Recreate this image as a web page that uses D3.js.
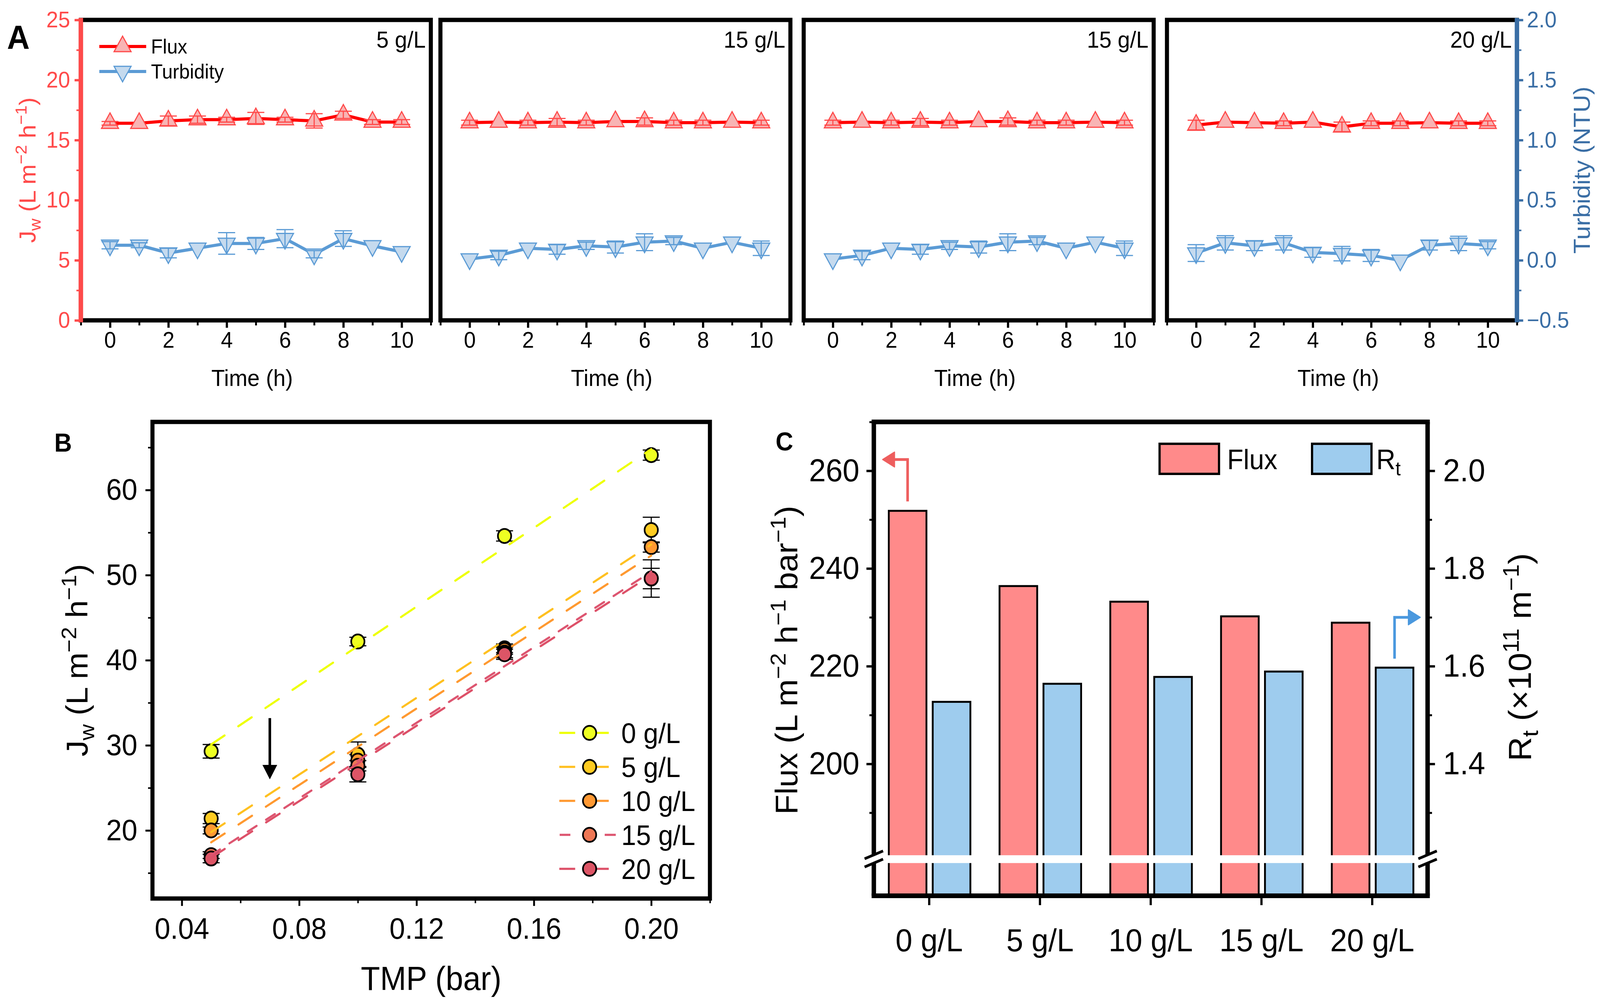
<!DOCTYPE html>
<html>
<head>
<meta charset="utf-8">
<script src="https://cdn.jsdelivr.net/npm/d3@7"></script>
<style>
html, body { margin: 0; padding: 0; background: #fff; overflow: hidden; }
#fig { display: block; width: 100vw; height: 100vh; }
</style>
</head>
<body>
<svg id="fig" viewBox="0 0 4334 2570" preserveAspectRatio="none"></svg>
<script>
// ---- données panneau A (flux en L m-2 h-1, turbidité en NTU) ----
const heures = [0, 1, 2, 3, 4, 5, 6, 7, 8, 9, 10];
const etiquettesA = ["5 g/L", "15 g/L", "15 g/L", "20 g/L"];
const fluxA1 = [16.4, 16.4, 16.6, 16.7, 16.7, 16.8, 16.7, 16.6, 17.1, 16.5, 16.5];
const fluxA1Err = [0.15, 0, 0.4, 0.3, 0.2, 0.5, 0.2, 0.6, 0.3, 0.2, 0.2];
const turbA1 = [0.125, 0.125, 0.06, 0.10, 0.14, 0.14, 0.18, 0.05, 0.18, 0.12, 0.07];
const turbA1Err = [0.03, 0.02, 0.04, 0, 0.09, 0.05, 0.075, 0.03, 0.065, 0, 0];
const fluxA2 = [16.45, 16.5, 16.45, 16.5, 16.45, 16.55, 16.55, 16.45, 16.45, 16.5, 16.45];
const fluxA2Err = [0.2, 0, 0.2, 0.3, 0.2, 0, 0.3, 0.2, 0.2, 0, 0.2];
const turbA2 = [0.01, 0.04, 0.10, 0.09, 0.12, 0.11, 0.15, 0.16, 0.10, 0.15, 0.10];
const turbA2Err = [0, 0.035, 0, 0.04, 0.03, 0.05, 0.07, 0.03, 0, 0, 0.06];
const fluxA4 = [16.25, 16.5, 16.45, 16.4, 16.5, 16.1, 16.4, 16.4, 16.45, 16.4, 16.4];
const fluxA4Err = [0.4, 0, 0, 0.2, 0, 0.4, 0.2, 0.2, 0, 0.2, 0.2];
const turbA4 = [0.06, 0.145, 0.12, 0.145, 0.065, 0.055, 0.04, 0.0, 0.125, 0.14, 0.125];
const turbA4Err = [0.07, 0.06, 0.04, 0.06, 0.04, 0.06, 0.05, 0, 0.04, 0.06, 0.03];

// ---- données panneau B ----
const tmp = [0.05, 0.10, 0.15, 0.20];
const concB = ["0 g/L", "5 g/L", "10 g/L", "15 g/L", "20 g/L"];
const jw0 = [29.3, 42.2, 54.6, 64.1];
const jw5 = [21.4, 28.9, 41.4, 55.3];
const jw10 = [20.0, 28.2, 41.2, 53.3];
const jw15 = [17.1, 27.6, 40.9, 49.6];
const jw20 = [16.7, 26.6, 40.7, 49.6];
const jw0Err = [0.8, 0.5, 0.6, 0.6];
const jw5Err = [0.6, 1.5, 0.5, 1.5];
const jw10Err = [0.4, 0.7, 0.5, 0.6];
const jw15Err = [0.4, 0.6, 0.6, 1.2];
const jw20Err = [0.5, 0.9, 0.6, 2.2];
// droites d'ajustement : valeurs à 0.05 et 0.20 bar
const tmpFit = [0.05, 0.20];
const fit0 = [30.1, 64.8];
const fit5 = [19.8, 53.6];
const fit10 = [18.6, 52.3];
const fit15 = [17.1, 50.4];
const fit20 = [16.8, 50.0];

// ---- données panneau C ----
const concC = ["0 g/L", "5 g/L", "10 g/L", "15 g/L", "20 g/L"];
const fluxC = [251.8, 236.4, 233.2, 230.2, 228.9];
const rtC = [1.527, 1.564, 1.578, 1.589, 1.597];

// ---------------------------------------------------------------
const police = '"Liberation Sans", Arial, Helvetica, sans-serif';
const svg = d3.select("#fig");
const rouge = "#FF4A4A", bleuAxe = "#3A6EA5";

function axe(g, axis, taille, couleur, largeur) {
  g.call(axis);
  g.select(".domain").remove();
  g.selectAll(".tick line").attr("stroke", couleur).attr("stroke-width", largeur);
  g.selectAll(".tick text").attr("fill", couleur).attr("font-size", taille)
    .attr("font-family", police);
}

// texte avec indices / exposants
function texteRiche(sel, morceaux, f) {
  let decal = 0;
  morceaux.forEach(([txt, mode]) => {
    const cible = mode === "sup" ? -0.38 * f : mode === "sub" ? 0.22 * f : 0;
    sel.append("tspan").attr("dy", cible - decal)
      .attr("font-size", mode ? 0.7 * f : f).text(txt);
    decal = cible;
  });
}

function titreVertical(x, y, morceaux, f, couleur) {
  const t = svg.append("text")
    .attr("transform", `translate(${x},${y}) rotate(-90)`)
    .attr("text-anchor", "middle").attr("font-family", police)
    .attr("font-size", f).attr("fill", couleur);
  texteRiche(t, morceaux, f);
}

function lettre(x, y, l, f) {
  svg.append("text").attr("x", x).attr("y", y).attr("font-family", police)
    .attr("font-weight", "bold").attr("font-size", f).text(l);
}

// =================== PANNEAU A ===================
const hautA = 51, basA = 820, largA = 948;
const gauchesA = [219, 1193, 2177, 3161];
const seriesA = [
  [fluxA1, fluxA1Err, turbA1, turbA1Err],
  [fluxA2, fluxA2Err, turbA2, turbA2Err],
  [fluxA2, fluxA2Err, turbA2, turbA2Err],
  [fluxA4, fluxA4Err, turbA4, turbA4Err]
];
const triangle = d3.symbol().type(d3.symbolTriangle).size(919);

gauchesA.forEach((L, i) => {
  const x = d3.scaleLinear([-1, 11], [L, L + largA]);
  const yL = d3.scaleLinear([0, 25], [basA, hautA]);
  const yR = d3.scaleLinear([-0.5, 2], [basA, hautA]);
  const [fl, flE, tu, tuE] = seriesA[i];
  const g = svg.append("g");

  const courbe = (ys, vals) => d3.line().x((d, k) => x(heures[k])).y(d => ys(d))(vals);

  // flux
  g.append("path").attr("d", courbe(yL, fl)).attr("fill", "none")
    .attr("stroke", "#FF0000").attr("stroke-width", 8).attr("stroke-linejoin", "round");
  g.selectAll(".trh").data(fl).enter().append("path")
    .attr("d", triangle)
    .attr("transform", (d, k) => `translate(${x(heures[k])},${yL(d)})`)
    .attr("fill", "#F8B4B4").attr("stroke", "#FF4A4A").attr("stroke-width", 3);
  // turbidité
  g.append("path").attr("d", courbe(yR, tu)).attr("fill", "none")
    .attr("stroke", "#5B9BD5").attr("stroke-width", 8).attr("stroke-linejoin", "round");
  g.selectAll(".trb").data(tu).enter().append("path")
    .attr("d", triangle)
    .attr("transform", (d, k) => `translate(${x(heures[k])},${yR(d)}) rotate(180)`)
    .attr("fill", "#C5DAEE").attr("stroke", "#5B9BD5").attr("stroke-width", 3);

  // barres d'erreur
  const erreurs = (vals, errs, ys, coul) => {
    vals.forEach((v, k) => {
      if (!errs[k]) return;
      const cx = x(heures[k]);
      const p = d3.path();
      p.moveTo(cx, ys(v - errs[k])); p.lineTo(cx, ys(v + errs[k]));
      [v - errs[k], v + errs[k]].forEach(e => { p.moveTo(cx - 23, ys(e)); p.lineTo(cx + 23, ys(e)); });
      g.append("path").attr("d", p.toString()).attr("stroke", coul)
        .attr("stroke-width", 3).attr("fill", "none");
    });
  };
  erreurs(fl, flE, yL, "#FF4A4A");
  erreurs(tu, tuE, yR, "#5B9BD5");

  // axe du bas
  axe(g.append("g").attr("transform", `translate(0,${basA})`),
    d3.axisBottom(x).tickValues([0, 2, 4, 6, 8, 10]).tickSize(19).tickPadding(10),
    58, "#000", 6);
  axe(g.append("g").attr("transform", `translate(0,${basA})`),
    d3.axisBottom(x).tickValues([-1, 1, 3, 5, 7, 9, 11]).tickSize(13).tickFormat(""),
    58, "#000", 5);

  // cadre
  g.append("rect").attr("x", L).attr("y", hautA).attr("width", largA)
    .attr("height", basA - hautA).attr("fill", "none").attr("stroke", "#000").attr("stroke-width", 11);

  if (i === 0) {
    axe(g.append("g").attr("transform", `translate(${L},0)`),
      d3.axisLeft(yL).tickValues([0, 5, 10, 15, 20, 25]).tickSize(17).tickPadding(12),
      58, rouge, 6);
    axe(g.append("g").attr("transform", `translate(${L},0)`),
      d3.axisLeft(yL).tickValues([2.5, 7.5, 12.5, 17.5, 22.5]).tickSize(12).tickFormat(""),
      58, rouge, 4);
    g.append("line").attr("x1", L).attr("x2", L).attr("y1", hautA - 5).attr("y2", basA + 5)
      .attr("stroke", rouge).attr("stroke-width", 12);
  }
  if (i === 3) {
    const R = L + largA;
    axe(g.append("g").attr("transform", `translate(${R},0)`),
      d3.axisRight(yR).tickValues([-0.5, 0, 0.5, 1, 1.5, 2]).tickSize(17).tickPadding(10)
        .tickFormat(d3.format(".1f")),
      58, bleuAxe, 6);
    axe(g.append("g").attr("transform", `translate(${R},0)`),
      d3.axisRight(yR).tickValues([-0.25, 0.25, 0.75, 1.25, 1.75]).tickSize(12).tickFormat(""),
      58, bleuAxe, 4);
    g.append("line").attr("x1", R).attr("x2", R).attr("y1", hautA - 5).attr("y2", basA + 5)
      .attr("stroke", bleuAxe).attr("stroke-width", 12);
  }

  // concentration
  g.append("text").attr("x", L + largA - 14).attr("y", 122).attr("text-anchor", "end")
    .attr("font-family", police).attr("font-size", 60).text(etiquettesA[i]);
  // titre x
  g.append("text").attr("x", L + largA / 2 - 10).attr("y", 988).attr("text-anchor", "middle")
    .attr("font-family", police).attr("font-size", 60).text("Time (h)");
});

// légende A
const legA = svg.append("g");
[["Flux", "#FF0000", "#F8B4B4", "#FF4A4A", 119, 0], ["Turbidity", "#5B9BD5", "#C5DAEE", "#5B9BD5", 183, 180]]
  .forEach(([nom, cl, fill, st, yy, rot]) => {
    legA.append("line").attr("x1", 269).attr("x2", 396).attr("y1", yy).attr("y2", yy)
      .attr("stroke", cl).attr("stroke-width", 8);
    legA.append("path").attr("d", triangle).attr("transform", `translate(332,${yy}) rotate(${rot})`)
      .attr("fill", fill).attr("stroke", st).attr("stroke-width", 3);
    legA.append("text").attr("x", 409).attr("y", yy).attr("dy", "0.35em")
      .attr("font-family", police).attr("font-size", 52).text(nom);
  });

titreVertical(96, (hautA + basA) / 2, [["J"], ["w", "sub"], [" (L m"], ["−2", "sup"], [" h"], ["−1", "sup"], [")"]], 62, rouge);
svg.append("text").attr("transform", `translate(4306,${(hautA + basA) / 2}) rotate(-90)`)
  .attr("text-anchor", "middle").attr("font-family", police).attr("font-size", 63)
  .attr("fill", bleuAxe).text("Turbidity (NTU)");
lettre(19, 125, "A", 85);

// =================== PANNEAU B ===================
const bx0 = 413, bx1 = 1923, by0 = 1080, by1 = 2300;
const xB = d3.scaleLinear([0.03, 0.22], [bx0, bx1]);
const yB = d3.scaleLinear([12, 68], [by1, by0]);
const gB = svg.append("g");
const seriesB = [jw0, jw5, jw10, jw15, jw20];
const errB = [jw0Err, jw5Err, jw10Err, jw15Err, jw20Err];
const fitsB = [fit0, fit5, fit10, fit15, fit20];
const remplB = ["#EEFF22", "#FFCC22", "#FF9933", "#EE7755", "#DD5566"];
const traitB = ["#EEFF00", "#FFC020", "#FF9930", "#DD5570", "#DD5068"];
const tiretB = ["43,44", "43,44", "43,44", "28,30", "43,44"];

seriesB.forEach((s, j) => {
  s.forEach((v, k) => {
    const cx = xB(tmp[k]), e = errB[j][k];
    const p = d3.path();
    p.moveTo(cx, yB(v - e)); p.lineTo(cx, yB(v + e));
    [v - e, v + e].forEach(w => { p.moveTo(cx - 23, yB(w)); p.lineTo(cx + 23, yB(w)); });
    gB.append("path").attr("d", p.toString()).attr("stroke", "#000").attr("stroke-width", 3);
  });
});
seriesB.forEach((s, j) => {
  gB.selectAll(".pt" + j).data(s).enter().append("circle")
    .attr("cx", (d, k) => xB(tmp[k])).attr("cy", d => yB(d)).attr("r", 18)
    .attr("fill", remplB[j]).attr("stroke", "#000").attr("stroke-width", 4.5);
});
fitsB.forEach((f, j) => {
  gB.append("path")
    .attr("d", d3.line().x((d, k) => xB(tmpFit[k])).y(d => yB(d))(f))
    .attr("stroke", traitB[j]).attr("stroke-width", 5.5).attr("fill", "none")
    .attr("stroke-dasharray", tiretB[j]).attr("stroke-linecap", "round");
});

// flèche
const xf = xB(0.07);
gB.append("line").attr("x1", xf).attr("x2", xf).attr("y1", yB(33.2)).attr("y2", yB(26) - 30)
  .attr("stroke", "#000").attr("stroke-width", 7);
gB.append("path").attr("d", `M${xf},${yB(26)} L${xf - 20},${yB(26) - 37} L${xf + 20},${yB(26) - 37} Z`)
  .attr("fill", "#000");

axe(gB.append("g").attr("transform", `translate(0,${by1})`),
  d3.axisBottom(xB).tickValues([0.04, 0.08, 0.12, 0.16, 0.20]).tickSize(19).tickPadding(30)
    .tickFormat(d3.format(".2f")), 76, "#000", 5);
axe(gB.append("g").attr("transform", `translate(0,${by1})`),
  d3.axisBottom(xB).tickValues([0.06, 0.10, 0.14, 0.18, 0.22]).tickSize(12).tickFormat(""), 76, "#000", 4);
axe(gB.append("g").attr("transform", `translate(${bx0},0)`),
  d3.axisLeft(yB).tickValues([20, 30, 40, 50, 60]).tickSize(19).tickPadding(22), 76, "#000", 5);
axe(gB.append("g").attr("transform", `translate(${bx0},0)`),
  d3.axisLeft(yB).tickValues([15, 25, 35, 45, 55, 65]).tickSize(12).tickFormat(""), 76, "#000", 4);
gB.append("rect").attr("x", bx0).attr("y", by0).attr("width", bx1 - bx0).attr("height", by1 - by0)
  .attr("fill", "none").attr("stroke", "#000").attr("stroke-width", 11);

// légende B
concB.forEach((c, j) => {
  const yy = 1876 + j * 87;
  const seg = j === 3 ? [[1516, 1545], [1638, 1668]] : [[1515, 1558], [1616, 1649]];
  seg.forEach(([a, b]) => gB.append("line").attr("x1", a).attr("x2", b).attr("y1", yy).attr("y2", yy)
    .attr("stroke", traitB[j]).attr("stroke-width", 5.5));
  gB.append("circle").attr("cx", 1597).attr("cy", yy).attr("r", 18)
    .attr("fill", remplB[j]).attr("stroke", "#000").attr("stroke-width", 4.5);
  gB.append("text").attr("x", 1683).attr("y", yy).attr("dy", "0.36em").attr("font-family", police)
    .attr("font-size", 72).text(c);
});

svg.append("text").attr("x", (bx0 + bx1) / 2).attr("y", 2534).attr("text-anchor", "middle")
  .attr("font-family", police).attr("font-size", 85).text("TMP (bar)");
titreVertical(237, (by0 + by1) / 2, [["J"], ["w", "sub"], [" (L m"], ["−2", "sup"], [" h"], ["−1", "sup"], [")"]], 82, "#000");
lettre(147, 1156, "B", 66);

// =================== PANNEAU C ===================
const cx0 = 2367, cx1 = 3867, cy0 = 1080, cy1 = 2293;
const xC = d3.scaleBand(concC, [cx0, cx1]);
const yCL = d3.scaleLinear([173, 270], [cy1, cy0]);
const yCR = d3.scaleLinear([1.13, 2.1], [cy1, cy0]);
const gC = svg.append("g");
const bw = xC.bandwidth();
const largBarre = bw * 0.34, ecart = bw * 0.025;

gC.selectAll(".bf").data(fluxC).enter().append("rect")
  .attr("x", (d, k) => xC(concC[k]) + bw / 2 - ecart - largBarre)
  .attr("y", d => yCL(d)).attr("width", largBarre).attr("height", d => cy1 - yCL(d))
  .attr("fill", "#FF8A8A").attr("stroke", "#000").attr("stroke-width", 5);
gC.selectAll(".br").data(rtC).enter().append("rect")
  .attr("x", (d, k) => xC(concC[k]) + bw / 2 + ecart + 2)
  .attr("y", d => yCR(d)).attr("width", largBarre).attr("height", d => cy1 - yCR(d))
  .attr("fill", "#9ECCEE").attr("stroke", "#000").attr("stroke-width", 5);

// coupure d'axe
const yCoupe = yCL(180.5);
gC.append("rect").attr("x", cx0 - 6).attr("y", yCoupe - 10).attr("width", cx1 - cx0 + 12).attr("height", 20)
  .attr("fill", "#fff");

axe(gC.append("g").attr("transform", `translate(0,${cy1})`),
  d3.axisBottom(xC).tickSize(24).tickPadding(60), 82, "#000", 6);
axe(gC.append("g").attr("transform", `translate(${cx0},0)`),
  d3.axisLeft(yCL).tickValues([200, 220, 240, 260]).tickSize(20).tickPadding(19), 82, "#000", 6);
axe(gC.append("g").attr("transform", `translate(${cx0},0)`),
  d3.axisLeft(yCL).tickValues([190, 210, 230, 250, 270]).tickSize(12).tickFormat(""), 82, "#000", 5);
axe(gC.append("g").attr("transform", `translate(${cx1},0)`),
  d3.axisRight(yCR).tickValues([1.4, 1.6, 1.8, 2.0]).tickSize(20).tickPadding(22)
    .tickFormat(d3.format(".1f")), 82, "#000", 6);
axe(gC.append("g").attr("transform", `translate(${cx1},0)`),
  d3.axisRight(yCR).tickValues([1.3, 1.5, 1.7, 1.9]).tickSize(12).tickFormat(""), 82, "#000", 5);

// cadre en deux morceaux autour de la coupure
[[cy0, yCoupe - 10], [yCoupe + 10, cy1]].forEach(([a, b]) => {
  [cx0, cx1].forEach(xx => gC.append("line").attr("x1", xx).attr("x2", xx).attr("y1", a).attr("y2", b)
    .attr("stroke", "#000").attr("stroke-width", 12));
});
gC.append("line").attr("x1", cx0 - 6).attr("x2", cx1 + 6).attr("y1", cy0).attr("y2", cy0)
  .attr("stroke", "#000").attr("stroke-width", 12);
gC.append("line").attr("x1", cx0 - 6).attr("x2", cx1 + 6).attr("y1", cy1).attr("y2", cy1)
  .attr("stroke", "#000").attr("stroke-width", 12);
[cx0, cx1].forEach(xx => {
  [-11, 10].forEach(o => gC.append("line")
    .attr("x1", xx - 25).attr("y1", yCoupe + o + 10).attr("x2", xx + 25).attr("y2", yCoupe + o - 10)
    .attr("stroke", "#000").attr("stroke-width", 7));
});

// flèches
const xa = xC(concC[0]) + bw / 2 - ecart - largBarre / 2;
const ya = yCL(262.3);
gC.append("path").attr("d", `M${xa},${yCL(fluxC[0]) - 24} V${ya} H${cx0 + 50}`)
  .attr("fill", "none").attr("stroke", "#EE5E5E").attr("stroke-width", 7);
gC.append("path").attr("d", `M${cx0 + 24},${ya} L${cx0 + 56},${ya - 19} L${cx0 + 56},${ya + 19} Z`)
  .attr("fill", "#EE5E5E").attr("stroke", "#EE5E5E").attr("stroke-width", 3).attr("stroke-linejoin", "round");
const xb = xC(concC[4]) + bw / 2 + ecart + 2 + largBarre / 2;
const yb = yCR(1.7);
gC.append("path").attr("d", `M${xb},${yCR(rtC[4]) - 23} V${yb} H${cx1 - 50}`)
  .attr("fill", "none").attr("stroke", "#4A98DE").attr("stroke-width", 7);
gC.append("path").attr("d", `M${cx1 - 20},${yb} L${cx1 - 52},${yb - 19} L${cx1 - 52},${yb + 19} Z`)
  .attr("fill", "#4A98DE").attr("stroke", "#4A98DE").attr("stroke-width", 3).attr("stroke-linejoin", "round");

// légende C
[[3141, "#FF8A8A", [["Flux"]], 3324], [3554, "#9ECCEE", [["R"], ["t", "sub"]], 3728]].forEach(([xx, fill, txt, xt]) => {
  gC.append("rect").attr("x", xx).attr("y", 1136).attr("width", 161).attr("height", 77)
    .attr("fill", fill).attr("stroke", "#000").attr("stroke-width", 6);
  const t = gC.append("text").attr("x", xt).attr("y", 1175 + 26).attr("font-family", police);
  texteRiche(t, txt, 72);
});

titreVertical(2160, 1690, [["Flux (L m"], ["−2", "sup"], [" h"], ["−1", "sup"], [" bar"], ["−1", "sup"], [")"]], 84, "#000");
titreVertical(4147, 1682, [["R"], ["t", "sub"], [" (×10"], ["11", "sup"], [" m"], ["−1", "sup"], [")"]], 86, "#000");
lettre(2101, 1153, "C", 66);
</script>
</body>
</html>
